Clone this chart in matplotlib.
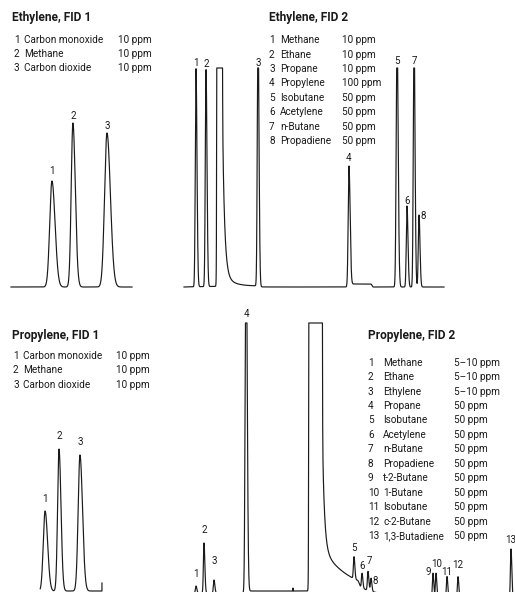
import numpy as np
import matplotlib.pyplot as plt

# ---------- data (retention time in min, peak height in signal units) ----------
# Ethylene, FID 1
e1_names = ["Carbon monoxide", "Methane", "Carbon dioxide"]
e1_conc = ["10 ppm", "10 ppm", "10 ppm"]
e1_rt = [2.03, 3.07, 4.76]
e1_height = [106, 164, 154]
e1_sigma = [0.11, 0.085, 0.12]

# Ethylene, FID 2
e2_names = ["Methane", "Ethane", "Propane", "Propylene", "Isobutane",
            "Acetylene", "n-Butane", "Propadiene"]
e2_conc = ["10 ppm", "10 ppm", "10 ppm", "100 ppm", "50 ppm",
           "50 ppm", "50 ppm", "50 ppm"]
e2_rt = [0.6, 1.1, 3.7, 8.25, 10.65, 11.15, 11.5, 11.75]
e2_height = [218, 217, 260, 121, 260, 81, 260, 72]
e2_sigma = [0.035, 0.035, 0.035, 0.04, 0.04, 0.035, 0.035, 0.035]
e2_matrix = [1.65, 1.9]          # off-scale ethylene peak (start, end)
e2_tail = [200, 0.1, 15, 0.4]    # tail amplitudes / decay constants
e2_base_t = [0, 2.5, 3.75, 3.8, 8.3, 8.35, 9.35, 9.45, 13]
e2_base_y = [0, 1, 1, 0, 0, 3, 3, 0, 0]

# Propylene, FID 1
p1_names = ["Carbon monoxide", "Methane", "Carbon dioxide"]
p1_conc = ["10 ppm", "10 ppm", "10 ppm"]
p1_rt = [1.69, 2.38, 3.42]
p1_height = [80, 142, 136]
p1_sigma = [0.09, 0.07, 0.09]
p1_end_step = 8

# Propylene, FID 2
p2_names = ["Methane", "Ethane", "Ethylene", "Propane", "Isobutane",
            "Acetylene", "n-Butane", "Propadiene", "t-2-Butane", "1-Butane",
            "Isobutane", "c-2-Butane", "1,3-Butadiene"]
p2_conc = ["5\u201310 ppm", "5\u201310 ppm", "5\u201310 ppm"] + ["50 ppm"] * 10
p2_rt = [0.6, 1.0, 1.5, 3.1, 8.5, 8.9, 9.2, 9.35, 12.45, 12.6, 13.15, 13.7, 16.35]
p2_height = [7, 50, 13, 400, 22, 15, 19, 13, 25, 25, 22, 22, 50]
p2_sigma = [0.03, 0.03, 0.03, 0.04, 0.03, 0.03, 0.03, 0.03, 0.03, 0.03, 0.03, 0.03, 0.03]
p2_matrix = [6.25, 6.9]          # off-scale propylene peak
p2_tail = [140, 0.1, 45, 1.4]
p2_base_t = [0, 3.15, 3.2, 5.44, 5.45, 5.47, 6.2, 6.25, 8.7, 8.85, 16.6]
p2_base_y = [0, 0, 2, 2, 5, 2, 2, 0, 0, -6, -6]

# ---------- fonts ----------
plt.rcParams["font.family"] = ["Roboto", "DejaVu Sans"]

W, H = 515, 592
fig = plt.figure(figsize=(W / 100, H / 100), dpi=100)
INK = "#1a1a1a"


def px_axes(x0, x1, ytop, ybot):
    ax = fig.add_axes([x0 / W, 1 - ybot / H, (x1 - x0) / W, (ybot - ytop) / H])
    ax.axis("off")
    return ax


def sig(x):
    return 0.5 * (1 + np.tanh(x / 2))


def signal(t, rt, height, sigma, matrix=None, tail=None, base_t=None, base_y=None):
    y = np.zeros_like(t)
    for r, h, s in zip(rt, height, sigma):
        s_eff = np.where(t < r, s, 1.4 * s)
        y += h * np.exp(-0.5 * ((t - r) / s_eff) ** 2)
    if matrix is not None:
        a, b = matrix
        w = 0.008
        y += 2000 * (sig((t - a) / w) - sig((t - b) / w))
        A, t1, B, t2 = tail
        d = np.clip(t - b, 0, None)
        y += sig((t - b) / w) * (A * np.exp(-d / t1) + B * np.exp(-d / t2))
    if base_t is not None:
        y += np.interp(t, base_t, base_y)
    return y


def fig_txt(x, y, s, **kw):
    fig.text(x / W, 1 - y / H, s, color=INK, va="baseline", **kw)


def legend(x_title, y_title, x_num, x_name, x_conc, y0, dy, names, conc, title):
    fig_txt(x_title, y_title, title, fontsize=8.6, fontweight="bold")
    for i, (n, c) in enumerate(zip(names, conc)):
        y = y0 + i * dy
        fig_txt(x_num, y, str(i + 1), fontsize=7.2)
        fig_txt(x_name, y, n, fontsize=7.2)
        fig_txt(x_conc, y, c, fontsize=7.2)


def draw(ax, t, y, ymax, rt, offsets):
    yc = np.minimum(y, ymax)
    ax.plot(t, yc, color=INK, lw=0.85, clip_on=False)
    for i, r in enumerate(rt):
        dx, dy = offsets.get(i + 1, (0, 4))
        top = yc[np.argmin(np.abs(t - r))]
        ax.annotate(str(i + 1), (r, top), xytext=(dx, dy), textcoords="offset pixels",
                    ha="center", va="baseline", fontsize=7, color=INK,
                    annotation_clip=False)


# ---------- Ethylene, FID 1 ----------
ax1 = px_axes(11, 132, 68, 287)
t = np.linspace(0, 6, 4000)
y = signal(t, e1_rt, e1_height, e1_sigma)
ax1.set_xlim(0, 6)
ax1.set_ylim(0, 219)
draw(ax1, t, y, 219, e1_rt, {1: (0, 7), 2: (0, 4), 3: (0, 4)})
legend(12, 21, 14, 24, 118, 43.3, 14, e1_names, e1_conc, "Ethylene, FID 1")

# ---------- Ethylene, FID 2 ----------
ax2 = px_axes(184, 444, 68, 287)
t = np.linspace(0, 13, 12000)
y = signal(t, e2_rt, e2_height, e2_sigma, e2_matrix, e2_tail, e2_base_t, e2_base_y)
ax2.set_xlim(0, 13)
ax2.set_ylim(0, 219)
draw(ax2, t, y, 219, e2_rt, {1: (0, 3), 2: (0, 3), 3: (0, 2.5), 4: (0, 5.5),
                            5: (0, 4.5), 6: (0, 2.5), 7: (0, 4.5), 8: (4, -3.5)})
legend(269, 21, 269, 280, 342, 43.3, 14.4, e2_names, e2_conc, "Ethylene, FID 2")

# ---------- Propylene, FID 1 ----------
ax3 = px_axes(11, 132, 372, 591)
t = np.linspace(1.45, 4.51, 3000)
y = signal(t, p1_rt, p1_height, p1_sigma)
t = np.append(t, t[-1])
y = np.append(y, p1_end_step)
ax3.set_xlim(0, 6)
ax3.set_ylim(0, 219)
draw(ax3, t, y, 219, p1_rt, {1: (0, 9.5), 2: (0, 10.5), 3: (0, 10.5)})
legend(12, 338.5, 13, 23, 116, 359, 14.4, p1_names, p1_conc, "Propylene, FID 1")

# ---------- Propylene, FID 2 ----------
ax4 = px_axes(184, 515, 323, 593)
t = np.linspace(0.3, 16.55, 15000)
y = signal(t, p2_rt, p2_height, p2_sigma, p2_matrix, p2_tail, p2_base_t, p2_base_y)
ax4.set_xlim(0, 16.55)
ax4.set_ylim(0, 270)
draw(ax4, t, y, 270, p2_rt, {1: (0, 9.5), 2: (0, 10.5), 3: (0, 16.5), 4: (0, 6.5),
                            5: (0, 5.5), 6: (0, 4.5), 7: (1, 7.5), 8: (4, -5.5),
                            9: (-5, -1.5), 10: (1, 6.5), 11: (0, 1.5), 12: (0, 8.5),
                            13: (0, 5.5)})
legend(368, 339.5, 368, 383, 454, 365.7, 14.44, p2_names, p2_conc, "Propylene, FID 2")

fig.savefig("out.png", dpi=100)
